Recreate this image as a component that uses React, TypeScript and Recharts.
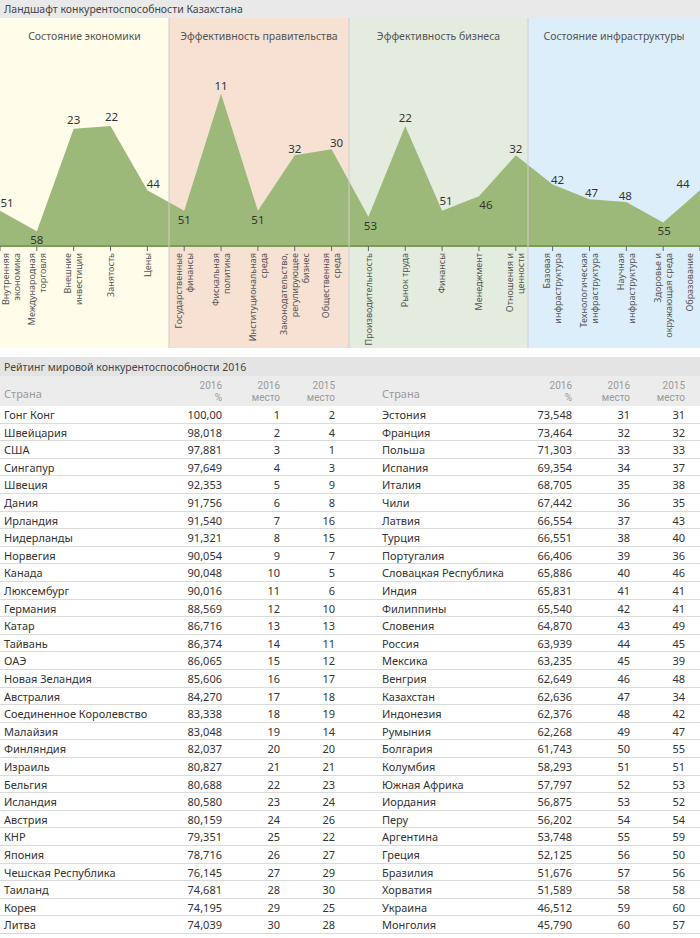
import React from "react";
import { AreaChart, Area, XAxis, YAxis, LabelList } from "recharts";

// группы факторов и их цвета
const groups = [
  "Состояние экономики",
  "Эффективность правительства",
  "Эффективность бизнеса",
  "Состояние инфраструктуры",
];
const groupBg = ["#fffde9", "#f6e1d3", "#e3ecdf", "#ddeefb"];
const groupEdges = [0, 169, 349, 528, 700];

const factors = [
  ["Внутренняя", "экономика"],
  ["Международная", "торговля"],
  ["Внешние", "инвестиции"],
  ["Занятость"],
  ["Цены"],
  ["Государственные", "финансы"],
  ["Фискальная", "политика"],
  ["Институциональная", "среда"],
  ["Законодательство,", "регулирующее", "бизнес"],
  ["Общественная", "среда"],
  ["Производительность"],
  ["Рынок труда"],
  ["Финансы"],
  ["Менеджмент"],
  ["Отношения и", "ценности"],
  ["Базовая", "инфраструктура"],
  ["Технологическая", "инфраструктура"],
  ["Научная", "инфраструктура"],
  ["Здоровье и", "окружающая среда"],
  ["Образование"],
];

// место Казахстана по фактору
const ranks = [51, 58, 23, 22, 44, 51, 11, 51, 32, 30, 53, 22, 51, 46, 32, 42, 47, 48, 55, 44];

// сдвиг подписей значений
const labelDx = [7, 0, 0, 1, 6, 0, 0, 0, 0, 5, 2, 0, 4, 7, 0, 5, 2, -1, 1, -17];
const labelDy = [-8, 8, -9, -9, -7, 9, -8, 9, -7, -7, 9, -8, -10, 8, -7, -5, -7, -7, 8, -7];

// рейтинг
const leftCountries = [
  "Гонг Конг", "Швейцария", "США", "Сингапур", "Швеция", "Дания", "Ирландия",
  "Нидерланды", "Норвегия", "Канада", "Люксембург", "Германия", "Катар", "Тайвань",
  "ОАЭ", "Новая Зеландия", "Австралия", "Соединенное Королевство", "Малайзия",
  "Финляндия", "Израиль", "Бельгия", "Исландия", "Австрия", "КНР", "Япония",
  "Чешская Республика", "Таиланд", "Корея", "Литва",
];
const leftScores = [
  "100,00", "98,018", "97,881", "97,649", "92,353", "91,756", "91,540", "91,321",
  "90,054", "90,048", "90,016", "88,569", "86,716", "86,374", "86,065", "85,606",
  "84,270", "83,338", "83,048", "82,037", "80,827", "80,688", "80,580", "80,159",
  "79,351", "78,716", "76,145", "74,681", "74,195", "74,039",
];
const leftRank2016 = [1, 2, 3, 4, 5, 6, 7, 8, 9, 10, 11, 12, 13, 14, 15, 16, 17, 18, 19, 20, 21, 22, 23, 24, 25, 26, 27, 28, 29, 30];
const leftRank2015 = [2, 4, 1, 3, 9, 8, 16, 15, 7, 5, 6, 10, 13, 11, 12, 17, 18, 19, 14, 20, 21, 23, 24, 26, 22, 27, 29, 30, 25, 28];

const rightCountries = [
  "Эстония", "Франция", "Польша", "Испания", "Италия", "Чили", "Латвия", "Турция",
  "Португалия", "Словацкая Республика", "Индия", "Филиппины", "Словения", "Россия",
  "Мексика", "Венгрия", "Казахстан", "Индонезия", "Румыния", "Болгария", "Колумбия",
  "Южная Африка", "Иордания", "Перу", "Аргентина", "Греция", "Бразилия", "Хорватия",
  "Украина", "Монголия",
];
const rightScores = [
  "73,548", "73,464", "71,303", "69,354", "68,705", "67,442", "66,554", "66,551",
  "66,406", "65,886", "65,831", "65,540", "64,870", "63,939", "63,235", "62,649",
  "62,636", "62,376", "62,268", "61,743", "58,293", "57,797", "56,875", "56,202",
  "53,748", "52,125", "51,676", "51,589", "46,512", "45,790",
];
const rightRank2016 = [31, 32, 33, 34, 35, 36, 37, 38, 39, 40, 41, 42, 43, 44, 45, 46, 47, 48, 49, 50, 51, 52, 53, 54, 55, 56, 57, 58, 59, 60];
const rightRank2015 = [31, 32, 33, 37, 38, 35, 43, 40, 36, 46, 41, 41, 49, 45, 39, 48, 34, 42, 47, 55, 51, 53, 52, 54, 59, 50, 56, 58, 60, 57];

const FONT = '"Noto Sans", "Open Sans", sans-serif';

const chartData = factors.map((f, i) => ({ name: f.join(" "), rank: ranks[i] }));

const FactorTick = (props: any) => {
  const { x, y, payload } = props;
  const lines = factors[payload.index] || [String(payload.value)];
  const lh = 11;
  const half = ((lines.length - 1) * lh) / 2;
  const cx = Math.min(Math.max(x, half + 5.5), 690 - half);
  return (
    <text
      transform={`translate(${cx},${y}) rotate(-90)`}
      textAnchor="end"
      fontSize={9}
      fill="#555"
      fontFamily={FONT}
    >
      {lines.map((l, i) => (
        <tspan key={i} x={0} y={-half + i * lh + 3.2}>
          {l}
        </tspan>
      ))}
    </text>
  );
};

const renderValue = (props: any) => {
  const { x, y, value, index } = props;
  return (
    <text
      x={x + labelDx[index]}
      y={y + labelDy[index]}
      textAnchor="middle"
      dominantBaseline="central"
      fontSize={11.5}
      fill="#333"
      fontFamily={FONT}
    >
      {value}
    </text>
  );
};

const ROW_TOP = 406;
const ROW_H = 17.6;
const COL_RIGHT = [222, 280, 335];
const HEADS = [
  ["2016", "%"],
  ["2016", "место"],
  ["2015", "место"],
];

const TableHalf = ({
  left,
  countries,
  scores,
  r16,
  r15,
  showTitle,
}: {
  left: number;
  countries: string[];
  scores: string[];
  r16: number[];
  r15: number[];
  showTitle: boolean;
}) => {
  const cx = left === 0 ? 4 : 32;
  const headColor = "#9a9a9a";
  return (
    <div style={{ position: "absolute", left, top: 0, width: 350, height: 938 }}>
      {showTitle && (
        <div
          style={{
            position: "absolute",
            left: 4,
            top: 358,
            height: 18,
            lineHeight: "18px",
            fontSize: 10.5,
            color: "#444",
            whiteSpace: "nowrap",
          }}
        >
          Рейтинг мировой конкурентоспособности 2016
        </div>
      )}
      <div style={{ position: "absolute", left: cx, top: 386, fontSize: 11, color: headColor }}>Страна</div>
      {HEADS.map(([a, b], i) => (
        <div
          key={i}
          style={{
            position: "absolute",
            right: 350 - COL_RIGHT[i],
            top: 380,
            fontSize: 10,
            lineHeight: "12px",
            color: headColor,
            textAlign: "right",
            fontFamily: "Roboto, sans-serif",
          }}
        >
          <div>{a}</div>
          <div>{b}</div>
        </div>
      ))}
      {countries.map((c, i) => {
        const top = ROW_TOP + i * ROW_H;
        const cell = (txt: string | number, r: number) => (
          <div
            style={{
              position: "absolute",
              right: 350 - r,
              top,
              height: ROW_H,
              lineHeight: `${ROW_H}px`,
              fontSize: 11,
              color: "#333",
            }}
          >
            {txt}
          </div>
        );
        return (
          <React.Fragment key={c}>
            <div
              style={{
                position: "absolute",
                left: cx,
                top,
                height: ROW_H,
                lineHeight: `${ROW_H}px`,
                fontSize: 11,
                color: "#333",
                whiteSpace: "nowrap",
              }}
            >
              {c}
            </div>
            {cell(scores[i], COL_RIGHT[0])}
            {cell(r16[i], COL_RIGHT[1])}
            {cell(r15[i], COL_RIGHT[2])}
          </React.Fragment>
        );
      })}
    </div>
  );
};

export default function App() {
  return (
    <div
      style={{
        position: "absolute",
        left: 0,
        top: 0,
        width: 700,
        height: 938,
        overflow: "hidden",
        background: "#fff",
        fontFamily: FONT,
      }}
    >
      {/* заголовок */}
      <div
        style={{
          position: "absolute",
          left: 0,
          top: 0,
          width: 700,
          height: 18,
          background: "#e9e9e9",
          color: "#444",
          fontSize: 10.5,
          lineHeight: "18px",
          paddingLeft: 4,
          boxSizing: "border-box",
        }}
      >
        Ландшафт конкурентоспособности Казахстана
      </div>

      {/* полосы групп */}
      {groups.map((g, i) => (
        <div
          key={g}
          style={{
            position: "absolute",
            left: groupEdges[i],
            top: 18,
            width: groupEdges[i + 1] - groupEdges[i],
            height: 330,
            background: groupBg[i],
          }}
        >
          <div
            style={{
              position: "absolute",
              left: 0,
              right: 0,
              top: 11,
              textAlign: "center",
              fontSize: 10.5,
              color: "#555",
              whiteSpace: "nowrap",
            }}
          >
            {g}
          </div>
        </div>
      ))}

      <div style={{ position: "absolute", left: 0, top: 0 }}>
        <AreaChart
          width={700}
          height={350}
          data={chartData}
          margin={{ top: 61.5, right: 0, bottom: 4, left: 0 }}
        >
          <YAxis hide reversed domain={[0, 63]} />
          <XAxis
            dataKey="name"
            interval={0}
            height={100}
            tickSize={5}
            tickMargin={2}
            axisLine={{ stroke: "#7c9c58", strokeWidth: 2 }}
            tickLine={{ stroke: "#666" }}
            tick={<FactorTick />}
          />
          <Area
            type="linear"
            dataKey="rank"
            baseValue={63}
            fill="#9db97a"
            fillOpacity={1}
            stroke="none"
            isAnimationActive={false}
          >
            <LabelList dataKey="rank" content={renderValue} />
          </Area>
        </AreaChart>
      </div>

      {/* разделители групп */}
      {groupEdges.slice(1, 4).map((x) => (
        <div
          key={x}
          style={{
            position: "absolute",
            left: x - 1,
            top: 18,
            width: 2,
            height: 330,
            background: "rgba(205,205,205,0.5)",
          }}
        />
      ))}

      {/* таблица */}
      <div style={{ position: "absolute", left: 0, top: 357, width: 700, height: 19, background: "#e4e4e4" }} />
      <div style={{ position: "absolute", left: 0, top: 376, width: 700, height: 30, background: "#ececec" }} />
      {leftCountries.map((c, i) => (
        <div
          key={c}
          style={{
            position: "absolute",
            left: 0,
            top: ROW_TOP + (i + 1) * ROW_H - 1,
            width: 700,
            height: 1,
            background: "#dadada",
          }}
        />
      ))}
      <TableHalf
        left={0}
        countries={leftCountries}
        scores={leftScores}
        r16={leftRank2016}
        r15={leftRank2015}
        showTitle
      />
      <TableHalf
        left={350}
        countries={rightCountries}
        scores={rightScores}
        r16={rightRank2016}
        r15={rightRank2015}
        showTitle={false}
      />
    </div>
  );
}
